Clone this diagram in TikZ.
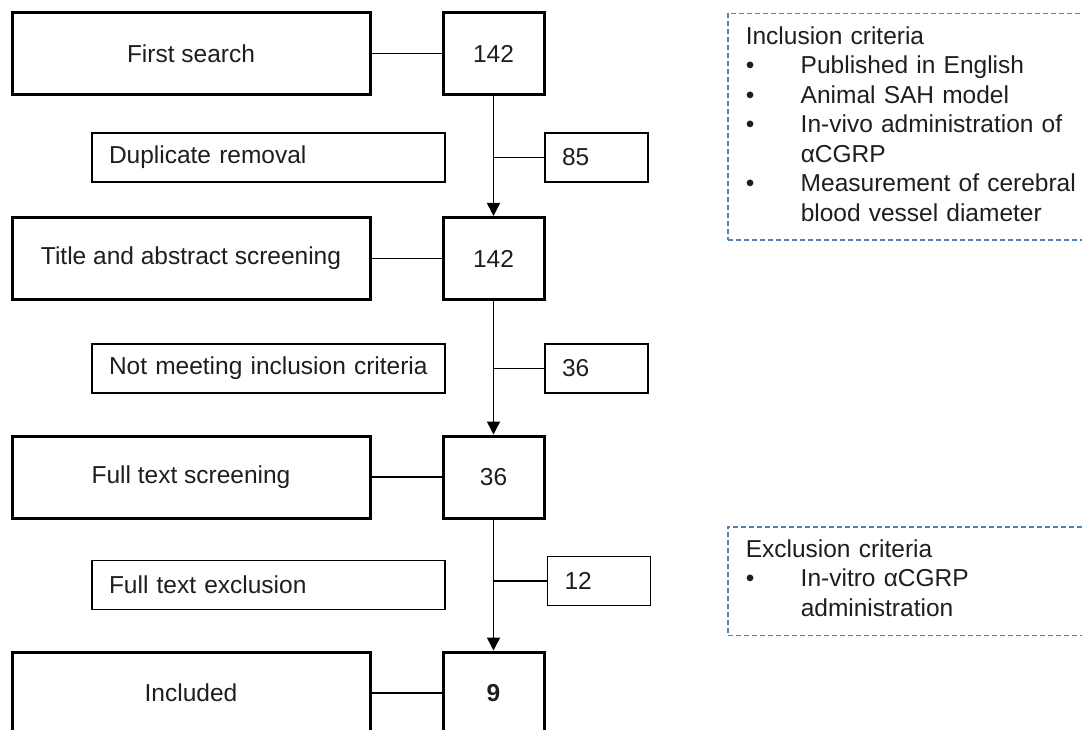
\documentclass[tikz,border=0pt]{standalone}
\usepackage{fontspec}
\setmainfont{Liberation Sans}
\usepackage{xcolor}
\usetikzlibrary{arrows.meta,positioning}
\definecolor{critblue}{RGB}{84,130,176}
\definecolor{inkgrey}{RGB}{30,30,30}
\tikzset{
  bigbox/.style={draw,line width=3pt,minimum width=358pt,minimum height=82pt,inner sep=0pt},
  numbox/.style={bigbox,minimum width=101pt},
  sidebox/.style={draw,line width=1.5pt,minimum height=49pt,inner xsep=17pt,inner ysep=0pt,
                  text width=319pt,align=left},
  cntbox/.style={sidebox,text width=69pt},
  link/.style={line width=1.5pt},
  flow/.style={link,-{Triangle[length=13pt,width=13pt]}},
  critbox/.style={draw=critblue,line width=1.5pt,dash pattern=on 5pt off 3pt,anchor=north west,
                  inner xsep=18pt,inner ysep=10pt,text width=327pt,align=left},
}

\begin{document}
\begin{tikzpicture}[x=1pt,y=-1pt,font=\fontsize{24.5pt}{29.5pt}\selectfont,text=inkgrey]
  \useasboundingbox (0,0) rectangle (1082,730);

  % main column
  \node[bigbox] (srch)  at (191,53.5)    {First search};
  \node[numbox] (srchn) at (493.5,53.5)  {142};
  \node[bigbox] (tiab)  at (191,258.5)   {Title and abstract screening};
  \node[numbox] (tiabn) at (493.5,258.5) {142};
  \node[bigbox] (full)  at (191,477)     {Full text screening};
  \node[numbox] (fulln) at (493.5,477)   {36};
  \node[bigbox] (incl)  at (191,693)     {Included};
  \node[numbox] (incln) at (493.5,693)   {\textbf{9}};

  % removed records
  \node[sidebox] (dup)   at (268.5,157.5) {Duplicate removal};
  \node[cntbox]  (dupn)  at (596.5,157.5) {85};
  \node[sidebox] (nmic)  at (268.5,368.5) {Not meeting inclusion criteria};
  \node[cntbox]  (nmicn) at (596.5,368.5) {36};
  \node[sidebox] (ftex)  at (268.5,585)   {Full text exclusion};
  \node[cntbox]  (ftexn) at (599,581)     {12};

  \draw[link] (srch) -- (srchn);
  \draw[link] (tiab) -- (tiabn);
  \draw[link] (full) -- (fulln);
  \draw[link] (incl) -- (incln);

  \draw[flow] (srchn) -- (tiabn);
  \draw[flow] (tiabn) -- (fulln);
  \draw[flow] (fulln) -- (incln);

  \draw[link] (srchn |- dupn) -- (dupn);
  \draw[link] (tiabn |- nmicn) -- (nmicn);
  \draw[link] (fulln |- ftexn) -- (ftexn);

  % criteria
  \node[critbox] (inc) at (727,13) {\begin{tabular}{@{}p{55pt}@{}l@{}}
    \multicolumn{2}{@{}l@{}}{Inclusion criteria}\\
    \textbullet & Published in English\\
    \textbullet & Animal SAH model\\
    \textbullet & In-vivo administration of\\
                & αCGRP\\
    \textbullet & Measurement of cerebral\\
                & blood vessel diameter
  \end{tabular}};
  \node[critbox] (exc) at (727,526) {\begin{tabular}{@{}p{55pt}@{}l@{}}
    \multicolumn{2}{@{}l@{}}{Exclusion criteria}\\
    \textbullet & In-vitro αCGRP\\
                & administration
  \end{tabular}};
\end{tikzpicture}
\end{document}
